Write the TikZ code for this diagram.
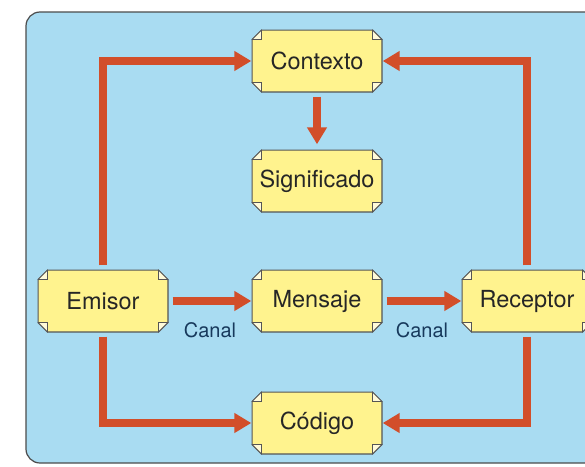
\documentclass[tikz,border=0pt]{standalone}
\usepackage{fontspec}
\setmainfont{TeX Gyre Heros}
\usetikzlibrary{arrows.meta}
\definecolor{panelblue}{HTML}{A9DCF2}
\definecolor{boxyellow}{HTML}{FFF38E}
\definecolor{foldcream}{HTML}{FFFAD8}
\definecolor{boxedge}{HTML}{555555}
\definecolor{flowred}{HTML}{D24E2A}
\definecolor{canalblue}{HTML}{17395C}
\tikzset{
  fold/.style={fill=foldcream,draw=boxedge,line width=0.8pt},
  box/.style={rectangle,minimum width=131pt,minimum height=63pt,inner sep=0pt,
    fill=panelblue,text=black!85,
    font=\fontsize{23.5}{26}\selectfont,
    path picture={
      \filldraw[fill=boxyellow,draw=boxedge,line width=1.2pt]
        ([shift={(.6pt,-10pt)}]path picture bounding box.north west)
        -- ([shift={(10pt,-.6pt)}]path picture bounding box.north west)
        -- ([shift={(-10pt,-.6pt)}]path picture bounding box.north east)
        -- ([shift={(-.6pt,-10pt)}]path picture bounding box.north east)
        -- ([shift={(-.6pt,10pt)}]path picture bounding box.south east)
        -- ([shift={(-10pt,.6pt)}]path picture bounding box.south east)
        -- ([shift={(10pt,.6pt)}]path picture bounding box.south west)
        -- ([shift={(.6pt,10pt)}]path picture bounding box.south west) -- cycle;
      \foreach \c/\sx/\sy in {north west/1/-1,north east/-1/-1,south west/1/1,south east/-1/1}
        \filldraw[fold] ([shift={(\sx*.6pt,\sy*10pt)}]path picture bounding box.\c)
          -- ([shift={(\sx*10pt,\sy*.6pt)}]path picture bounding box.\c)
          -- ([shift={(\sx*10pt,\sy*10pt)}]path picture bounding box.\c) -- cycle;
    }},
  flow/.style={line width=8pt,draw=flowred,-{Triangle[width=19pt,length=17pt]},shorten <=4pt},
  canal/.style={text=canalblue,font=\fontsize{20}{23}\selectfont,inner sep=0pt}
}
\begin{document}
\begin{tikzpicture}[x=1pt,y=-1pt]
    \useasboundingbox (0,0) rectangle (585,466);
    \clip (0,0) rectangle (585,466);
    \filldraw[fill=panelblue,draw=black!70,line width=1.2pt,rounded corners=14pt] (26,12) rectangle (640,463);
    \node[box] at (317,61) (contexto) {Contexto};
    \node[box] at (317,181) (significado) {Significado};
    \node[box] at (103,301) (emisor) {Emisor};
    \node[box] at (317,301) (mensaje) {Mensaje};
    \node[box] at (527,301) (receptor) {Receptor};
    \node[box] at (317,423) (codigo) {Código};
    \draw[flow] (emisor.north) |- (contexto.west);
    \draw[flow] (receptor.north) |- (contexto.east);
    \draw[flow,shorten >=5pt] (contexto.south) -- (significado.north);
    \draw[flow] (emisor.east) -- node[canal,midway,below=18pt] {Canal} (mensaje.west);
    \draw[flow] (mensaje.east) -- node[canal,midway,below=18pt] {Canal} (receptor.west);
    \draw[flow] (emisor.south) |- (codigo.west);
    \draw[flow] (receptor.south) |- (codigo.east);
  \end{tikzpicture}
\end{document}
